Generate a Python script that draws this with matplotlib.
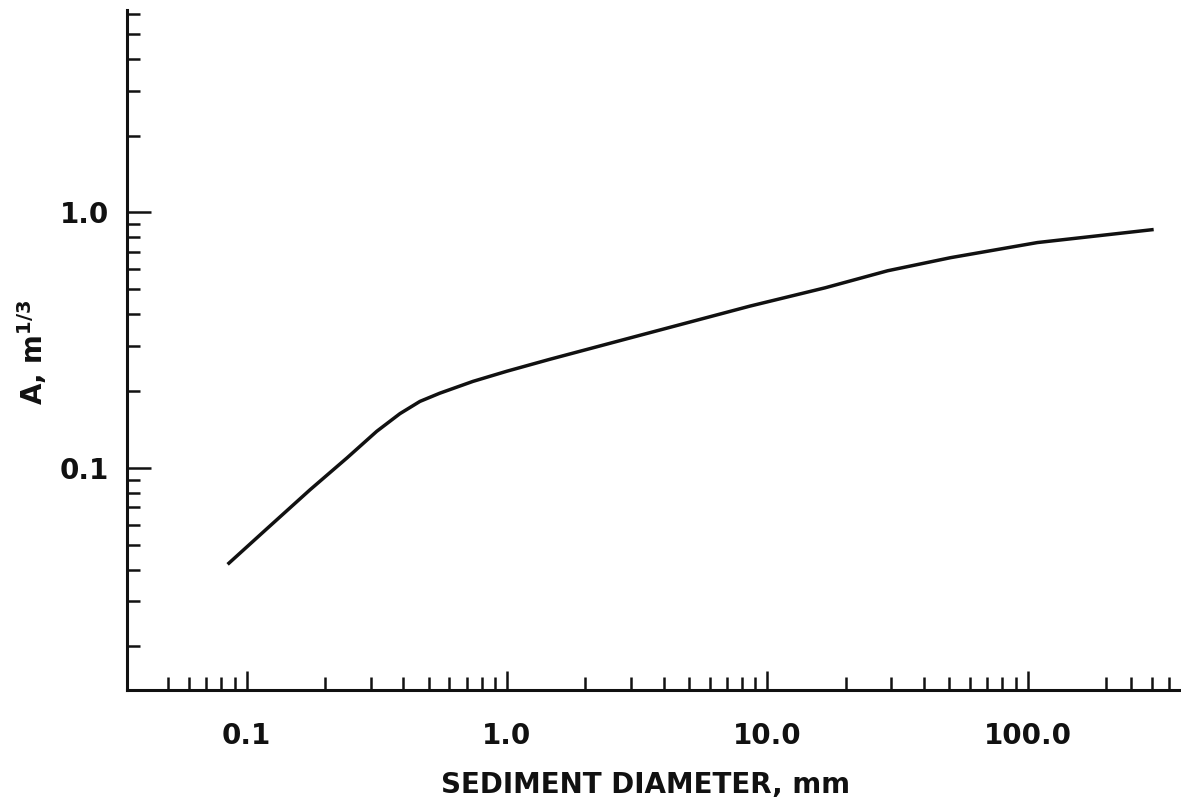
import matplotlib
matplotlib.use('Agg')
import matplotlib.pyplot as plt
from matplotlib.ticker import FixedLocator, FixedFormatter, NullFormatter

# 曲线数据
diameter_mm = [0.0845, 0.119, 0.175, 0.243, 0.316, 0.388, 0.463, 0.552, 0.740,
               1.0, 1.46, 3.16, 8.6, 16.7, 29.0, 50.6, 109.0, 305.0]
a_values = [0.0419, 0.0575, 0.0820, 0.1094, 0.139, 0.163, 0.182, 0.196, 0.218,
            0.239, 0.266, 0.328, 0.430, 0.507, 0.591, 0.665, 0.762, 0.857]

# 刻度
x_major = [0.1, 1.0, 10.0, 100.0]
x_major_labels = ['0.1', '1.0', '10.0', '100.0']
x_minor = [0.05, 0.06, 0.07, 0.08, 0.09,
           0.2, 0.3, 0.4, 0.5, 0.6, 0.7, 0.8, 0.9,
           2, 3, 4, 5, 6, 7, 8, 9,
           20, 30, 40, 50, 60, 70, 80, 90,
           200, 250, 300, 350]
y_major = [0.1, 1.0]
y_major_labels = ['0.1', '1.0']
y_minor = [0.02, 0.03, 0.04, 0.05, 0.06, 0.07, 0.08, 0.09,
           0.2, 0.3, 0.4, 0.5, 0.6, 0.7, 0.8, 0.9,
           2, 3, 4, 5, 6]

plt.rcParams['font.family'] = ['DejaVu Sans']
plt.rcParams['font.weight'] = 'bold'
plt.rcParams['mathtext.default'] = 'bf'

fig = plt.figure(figsize=(11.81, 8.02), dpi=100)
ax = fig.add_axes([127 / 1181, 1 - 690 / 802, (1180 - 127) / 1181, (690 - 10) / 802])

ax.plot(diameter_mm, a_values, color='#111111', linewidth=2.5,
        solid_capstyle='butt', solid_joinstyle='round')

ax.set_xscale('log')
ax.set_yscale('log')
ax.set_xlim(0.0347, 385)
ax.set_ylim(0.0135, 6.2)

# 坐标轴样式
for side in ['top', 'right']:
    ax.spines[side].set_visible(False)
for side in ['left', 'bottom']:
    ax.spines[side].set_linewidth(2.2)
    ax.spines[side].set_color('#111111')
    ax.spines[side].set_capstyle('projecting')

ax.xaxis.set_major_locator(FixedLocator(x_major))
ax.xaxis.set_major_formatter(FixedFormatter(x_major_labels))
ax.xaxis.set_minor_locator(FixedLocator(x_minor))
ax.xaxis.set_minor_formatter(NullFormatter())
ax.yaxis.set_major_locator(FixedLocator(y_major))
ax.yaxis.set_major_formatter(FixedFormatter(y_major_labels))
ax.yaxis.set_minor_locator(FixedLocator(y_minor))
ax.yaxis.set_minor_formatter(NullFormatter())

ax.tick_params(axis='x', which='major', direction='in', length=14, width=1.8,
               pad=23, labelsize=20, colors='#111111')
ax.tick_params(axis='x', which='minor', direction='in', length=9.5, width=1.8,
               colors='#111111')
ax.tick_params(axis='y', which='major', direction='in', length=17, width=1.8,
               pad=13, labelsize=20, colors='#111111')
ax.tick_params(axis='y', which='minor', direction='in', length=9, width=1.8,
               colors='#111111')
for lbl in ax.get_xticklabels() + ax.get_yticklabels():
    lbl.set_fontweight('bold')

# 轴标题
ax.set_xlabel('SEDIMENT DIAMETER, mm', fontsize=20, fontweight='bold', color='#111111')
ax.xaxis.set_label_coords((646 - 127) / 1053, -(785 - 690) / 680)
ax.xaxis.label.set_va('center')
ax.set_ylabel(r'A, m$^{1/3}$', fontsize=20, fontweight='bold', color='#111111')
ax.yaxis.set_label_coords(-(127 - 32) / 1053, (690 - 352) / 680)
ax.yaxis.label.set_va('center')

fig.savefig('out.png', dpi=100, facecolor='white')
